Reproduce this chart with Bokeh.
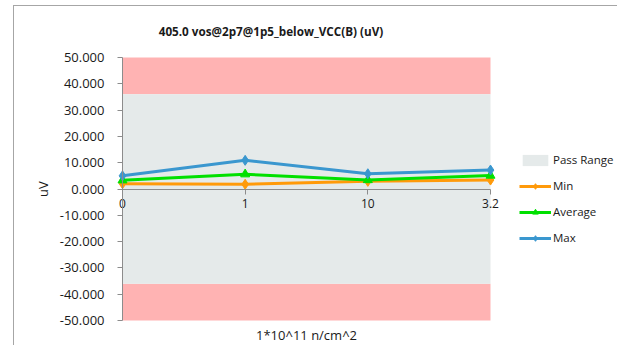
from bokeh.plotting import figure
from bokeh.models import (FixedTicker, NumeralTickFormatter, Legend, LegendItem,
                          Label, Range1d, LinearAxis)
from bokeh.embed import file_html
from bokeh.resources import INLINE

# ---- data ----
categories = ["0", "1", "10", "3.2"]
min_vals = [2.0, 1.8, 2.9, 3.4]
avg_vals = [3.3, 5.6, 3.4, 5.1]
max_vals = [5.0, 10.9, 5.8, 7.2]
pass_low, pass_high = -36.0, 36.0
y_min, y_max = -50.0, 50.0
y_ticks = [-50, -40, -30, -20, -10, 0, 10, 20, 30, 40, 50]
title_text = "405.0  vos@2p7@1p5_below_VCC(B) (uV)"
x_title = "1*10^11 n/cm^2"
y_title = "uV"

xs = list(range(len(categories)))
FONT = "Open Sans"
GRAY = "#8c8c8c"
TXT = "#1a1a1a"

# ---- layout (canvas pixels) ----
W, H = 604, 340
PL, PR = 108, 476      # plot box left / right
PT, PB = 51, 314       # plot box top / bottom
x0, x1 = xs[0], xs[-1]
sx = (PR - PL) / (x1 - x0)
sy = (PB - PT) / (y_max - y_min)
xr = Range1d(x0 - PL / sx, x1 + (W - PR) / sx)
yr = Range1d(y_min - (H - PB) / sy, y_max + PT / sy)

def px_to_x(px):
    return x0 + (px - PL) / sx

def py_to_y(py):
    return y_max - (py - PT) / sy

p = figure(width=W, height=H, output_backend="svg", toolbar_location=None,
           x_range=xr, y_range=yr, x_axis_location=None, y_axis_location=None,
           min_border=0)
p.margin = (5, 0, 0, 13)
p.styles = {"border-top": "1px solid #a6a6a6", "border-left": "1px solid #a6a6a6"}
p.outline_line_color = None
p.xgrid.visible = False
p.ygrid.visible = False
p.background_fill_color = "white"
p.border_fill_color = "white"

# bands
r_fail_hi = p.quad(left=x0, right=x1, bottom=pass_high, top=y_max,
                   fill_color="#ffb3b3", line_color=None)
r_fail_lo = p.quad(left=x0, right=x1, bottom=y_min, top=pass_low,
                   fill_color="#ffb3b3", line_color=None)
r_pass = p.quad(left=x0, right=x1, bottom=pass_low, top=pass_high,
                fill_color="#e5eaea", line_color=None)

# y axis at x = first category
ya = LinearAxis(fixed_location=x0, bounds=(y_min, y_max))
ya.ticker = FixedTicker(ticks=y_ticks)
ya.formatter = NumeralTickFormatter(format="0.000")
ya.axis_line_color = GRAY
ya.major_tick_line_color = GRAY
ya.major_tick_out = 5
ya.major_tick_in = 0
ya.minor_tick_line_color = None
ya.major_label_text_font = FONT
ya.major_label_text_font_size = "13px"
ya.major_label_text_color = TXT
ya.major_label_standoff = 13
ya.axis_label = y_title
ya.axis_label_text_font = FONT
ya.axis_label_text_font_size = "13px"
ya.axis_label_text_font_style = "normal"
ya.axis_label_text_color = TXT
ya.axis_label_standoff = 5
p.add_layout(ya, "left")

# x axis at zero line
xa = LinearAxis(fixed_location=0, bounds=(x0, x1))
xa.ticker = FixedTicker(ticks=xs)
xa.major_label_overrides = {i: c for i, c in zip(xs, categories)}
xa.axis_line_color = GRAY
xa.major_tick_line_color = GRAY
xa.major_tick_out = 5
xa.major_tick_in = 0
xa.minor_tick_line_color = None
xa.major_label_text_font = FONT
xa.major_label_text_font_size = "12px"
xa.major_label_text_color = TXT
xa.major_label_standoff = 5
p.add_layout(xa, "below")

ORANGE = "#ff9a0a"
GREEN = "#00e000"
BLUE = "#3a97cf"

l_min = p.line(xs, min_vals, line_color=ORANGE, line_width=3)
m_min = p.scatter(xs, min_vals, marker="diamond", size=10, fill_color=ORANGE, line_color=ORANGE)
l_avg = p.line(xs, avg_vals, line_color=GREEN, line_width=3)
m_avg = p.scatter(xs, avg_vals, marker="triangle", size=9, fill_color=GREEN, line_color=GREEN)
l_max = p.line(xs, max_vals, line_color=BLUE, line_width=3)
m_max = p.scatter(xs, max_vals, marker="diamond", size=10, fill_color=BLUE, line_color=BLUE)

# bottom axis title
p.add_layout(Label(x=(x0 + x1) / 2, y=y_min, y_offset=-5, text=x_title,
                   text_align="center", text_baseline="top", text_font=FONT,
                   text_font_size="13px", text_color=TXT))

# chart title
p.add_layout(Label(x=px_to_x(258), y=py_to_y(24), text=title_text,
                   text_align="center", text_baseline="middle", text_font=FONT,
                   text_font_size="11.7px", text_font_style="bold", text_color=TXT))

legend = Legend(items=[
    LegendItem(label="Pass Range", renderers=[r_pass]),
    LegendItem(label="Min", renderers=[l_min, m_min]),
    LegendItem(label="Average", renderers=[l_avg, m_avg]),
    LegendItem(label="Max", renderers=[l_max, m_max]),
], location=(505, 101), border_line_color=None, background_fill_alpha=0,
   label_text_font=FONT, label_text_font_size="11.5px", label_text_color=TXT,
   glyph_width=32, glyph_height=14, label_height=14, spacing=11, padding=0,
   margin=0, label_standoff=2)
p.add_layout(legend, "center")

open("out.html", "w").write(file_html(p, INLINE))
